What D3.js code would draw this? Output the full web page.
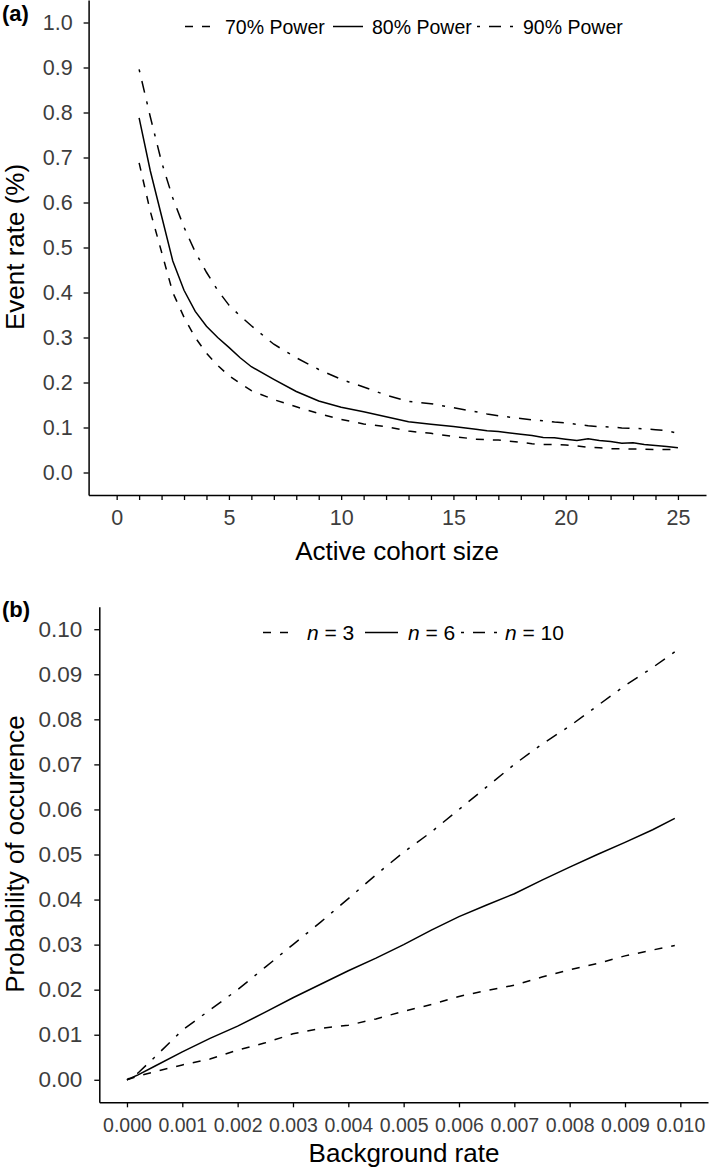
<!DOCTYPE html>
<html><head><meta charset="utf-8">
<script src="https://cdn.jsdelivr.net/npm/d3@7"></script>
<style>
html,body{margin:0;padding:0;background:#fff;}
svg{display:block;font-family:"Liberation Sans",Arial,sans-serif;}
</style></head>
<body>
<svg id="c" width="709" height="1171"></svg>
<script>
// ---------- Panel (a) data ----------
const cohortX = [1,1.5,2,2.5,3,3.5,4,4.5,5,5.5,6,7,8,9,10,11,12,13,14,15,16,16.5,17,18,18.5,19,19.5,20,20.5,21,21.5,22,22.5,23,23.5,24,24.5,25];
const power70 = [0.688,0.58,0.49,0.40,0.345,0.30,0.265,0.238,0.215,0.198,0.182,0.162,0.146,0.131,0.118,0.108,0.102,0.092,0.087,0.080,0.074,0.073,0.072,0.067,0.064,0.062,0.062,0.061,0.059,0.056,0.055,0.053,0.053,0.052,0.052,0.051,0.051,0.051];
const power80 = [0.788,0.67,0.57,0.47,0.405,0.358,0.325,0.30,0.278,0.255,0.235,0.207,0.18,0.159,0.145,0.135,0.124,0.113,0.107,0.102,0.096,0.093,0.091,0.085,0.082,0.078,0.077,0.074,0.071,0.075,0.071,0.069,0.065,0.066,0.062,0.060,0.058,0.055];
const power90 = [0.896,0.79,0.69,0.61,0.545,0.49,0.445,0.405,0.372,0.348,0.326,0.285,0.255,0.229,0.207,0.19,0.172,0.158,0.153,0.144,0.135,0.130,0.126,0.12,0.117,0.115,0.112,0.11,0.107,0.104,0.102,0.101,0.099,0.098,0.097,0.095,0.093,0.087];
const seriesA = ["70% Power","80% Power","90% Power"];
const xTicksA = d3.range(0,26);
const xLabelsA = [0,5,10,15,20,25];
const yTicksA = [0,0.1,0.2,0.3,0.4,0.5,0.6,0.7,0.8,0.9,1.0];

// ---------- Panel (b) data ----------
const bgRate = [0,0.0002,0.0005,0.001,0.0015,0.002,0.0025,0.003,0.0035,0.004,0.0045,0.005,0.0055,0.006,0.0065,0.007,0.0075,0.008,0.0085,0.009,0.0095,0.0099];
const n3  = [0,0.0008,0.0018,0.0033,0.0046,0.0066,0.0082,0.0102,0.0114,0.0121,0.0135,0.0152,0.0167,0.0185,0.0198,0.021,0.0228,0.0244,0.0258,0.0275,0.0288,0.0298];
const n6  = [0,0.0011,0.003,0.0062,0.0092,0.0119,0.015,0.0182,0.0212,0.0242,0.027,0.030,0.0332,0.0362,0.0388,0.0413,0.0443,0.0472,0.050,0.0527,0.0555,0.0580];
const n10 = [0,0.0015,0.005,0.011,0.0155,0.020,0.025,0.030,0.035,0.0402,0.0455,0.0505,0.055,0.060,0.065,0.070,0.0745,0.0785,0.083,0.0875,0.0915,0.095];
const seriesB = ["3","6","10"];
const xTicksB = [0,0.001,0.002,0.003,0.004,0.005,0.006,0.007,0.008,0.009,0.010];
const yTicksB = [0,0.01,0.02,0.03,0.04,0.05,0.06,0.07,0.08,0.09,0.10];

// ---------- styles ----------
const DASH = "8,9";
const DOTDASH = "3,9,12,9";
const styles = [DASH, null, DOTDASH];
const tickCol = "#3d3d3d";

const svg = d3.select("#c");
svg.append("rect").attr("width",709).attr("height",1171).attr("fill","#fff");

function styleAxis(g, fs){
  g.selectAll(".domain").attr("stroke","#000").attr("stroke-width",1.5);
  g.selectAll(".tick line").attr("stroke","#000").attr("stroke-width",1.3);
  g.selectAll(".tick text").attr("fill",tickCol).style("font-size",fs+"px").style("font-family",'"Liberation Sans",Arial,sans-serif');
}

// ================= Panel A =================
const xA = d3.scaleLinear().domain([-1.25,26.25]).range([88.6,706]);
const yA = d3.scaleLinear().domain([-0.05,1.05]).range([495,0]);

const gAx = svg.append("g").attr("transform","translate(0,495)")
  .call(d3.axisBottom(xA).tickValues(xTicksA).tickSize(5).tickSizeOuter(0).tickPadding(10)
    .tickFormat(d => xLabelsA.includes(d) ? d : ""));
styleAxis(gAx, 21.5);
const gAy = svg.append("g").attr("transform","translate(88.6,0)")
  .call(d3.axisLeft(yA).tickValues(yTicksA).tickSize(5).tickSizeOuter(0).tickPadding(11)
    .tickFormat(d3.format(".1f")));
styleAxis(gAy, 21.5);

const dataA = [power70, power80, power90];
const lineA = d3.line().x(d => xA(d[0])).y(d => yA(d[1]));
dataA.forEach((vals,i) => {
  svg.append("path").datum(cohortX.map((x,j)=>[x,vals[j]]))
    .attr("d", lineA).attr("fill","none").attr("stroke","#000").attr("stroke-width",1.5)
    .attr("stroke-dasharray", styles[i]);
});

svg.append("text").attr("x",397).attr("y",560).attr("text-anchor","middle")
  .style("font-size","26px").text("Active cohort size");
svg.append("text").attr("transform","translate(24,247) rotate(-90)").attr("text-anchor","middle")
  .style("font-size","26px").text("Event rate (%)");
svg.append("text").attr("x",2).attr("y",21).style("font-size","22px").style("font-weight","bold").text("(a)");

// legend A
const legA = [{k0:185,k1:210,t:225},{k0:333,k1:363,t:372},{k0:477,k1:516,t:523}];
legA.forEach((p,i) => {
  svg.append("line").attr("x1",p.k0).attr("x2",p.k1).attr("y1",26.5).attr("y2",26.5)
    .attr("stroke","#000").attr("stroke-width",1.5).attr("stroke-dasharray", styles[i]);
  svg.append("text").attr("x",p.t).attr("y",33.5).style("font-size","19.5px").attr("fill","#000").text(seriesA[i]);
});

// ================= Panel B =================
const xB = d3.scaleLinear().domain([-0.0005,0.0105]).range([99.3,708]);
const yB = d3.scaleLinear().domain([-0.005,0.105]).range([1102.3,606.7]);

const gBx = svg.append("g").attr("transform","translate(0,1102.3)")
  .call(d3.axisBottom(xB).tickValues(xTicksB).tickSize(5).tickSizeOuter(0).tickPadding(11)
    .tickFormat(d3.format(".3f")));
styleAxis(gBx, 19.5);
const gBy = svg.append("g").attr("transform","translate(99.3,0)")
  .call(d3.axisLeft(yB).tickValues(yTicksB).tickSize(5).tickSizeOuter(0).tickPadding(12)
    .tickFormat(d3.format(".2f")));
styleAxis(gBy, 22.5);

const dataB = [n3, n6, n10];
const lineB = d3.line().x(d => xB(d[0])).y(d => yB(d[1]));
dataB.forEach((vals,i) => {
  svg.append("path").datum(bgRate.map((x,j)=>[x,vals[j]]))
    .attr("d", lineB).attr("fill","none").attr("stroke","#000").attr("stroke-width",1.5)
    .attr("stroke-dasharray", styles[i]);
});

svg.append("text").attr("x",404).attr("y",1162).attr("text-anchor","middle")
  .style("font-size","26px").text("Background rate");
svg.append("text").attr("transform","translate(24,854) rotate(-90)").attr("text-anchor","middle")
  .style("font-size","26px").text("Probability of occurence");
svg.append("text").attr("x",2).attr("y",617).style("font-size","22px").style("font-weight","bold").text("(b)");

// legend B
const legB = [{k0:263,k1:288,t:307},{k0:365,k1:398,t:408},{k0:461,k1:500,t:505}];
legB.forEach((p,i) => {
  svg.append("line").attr("x1",p.k0).attr("x2",p.k1).attr("y1",632.5).attr("y2",632.5)
    .attr("stroke","#000").attr("stroke-width",1.5).attr("stroke-dasharray", styles[i]);
  const t = svg.append("text").attr("x",p.t).attr("y",640).style("font-size","21px").attr("fill","#000");
  t.append("tspan").style("font-style","italic").text("n");
  t.append("tspan").text(" = " + seriesB[i]);
});
</script>
</body></html>
